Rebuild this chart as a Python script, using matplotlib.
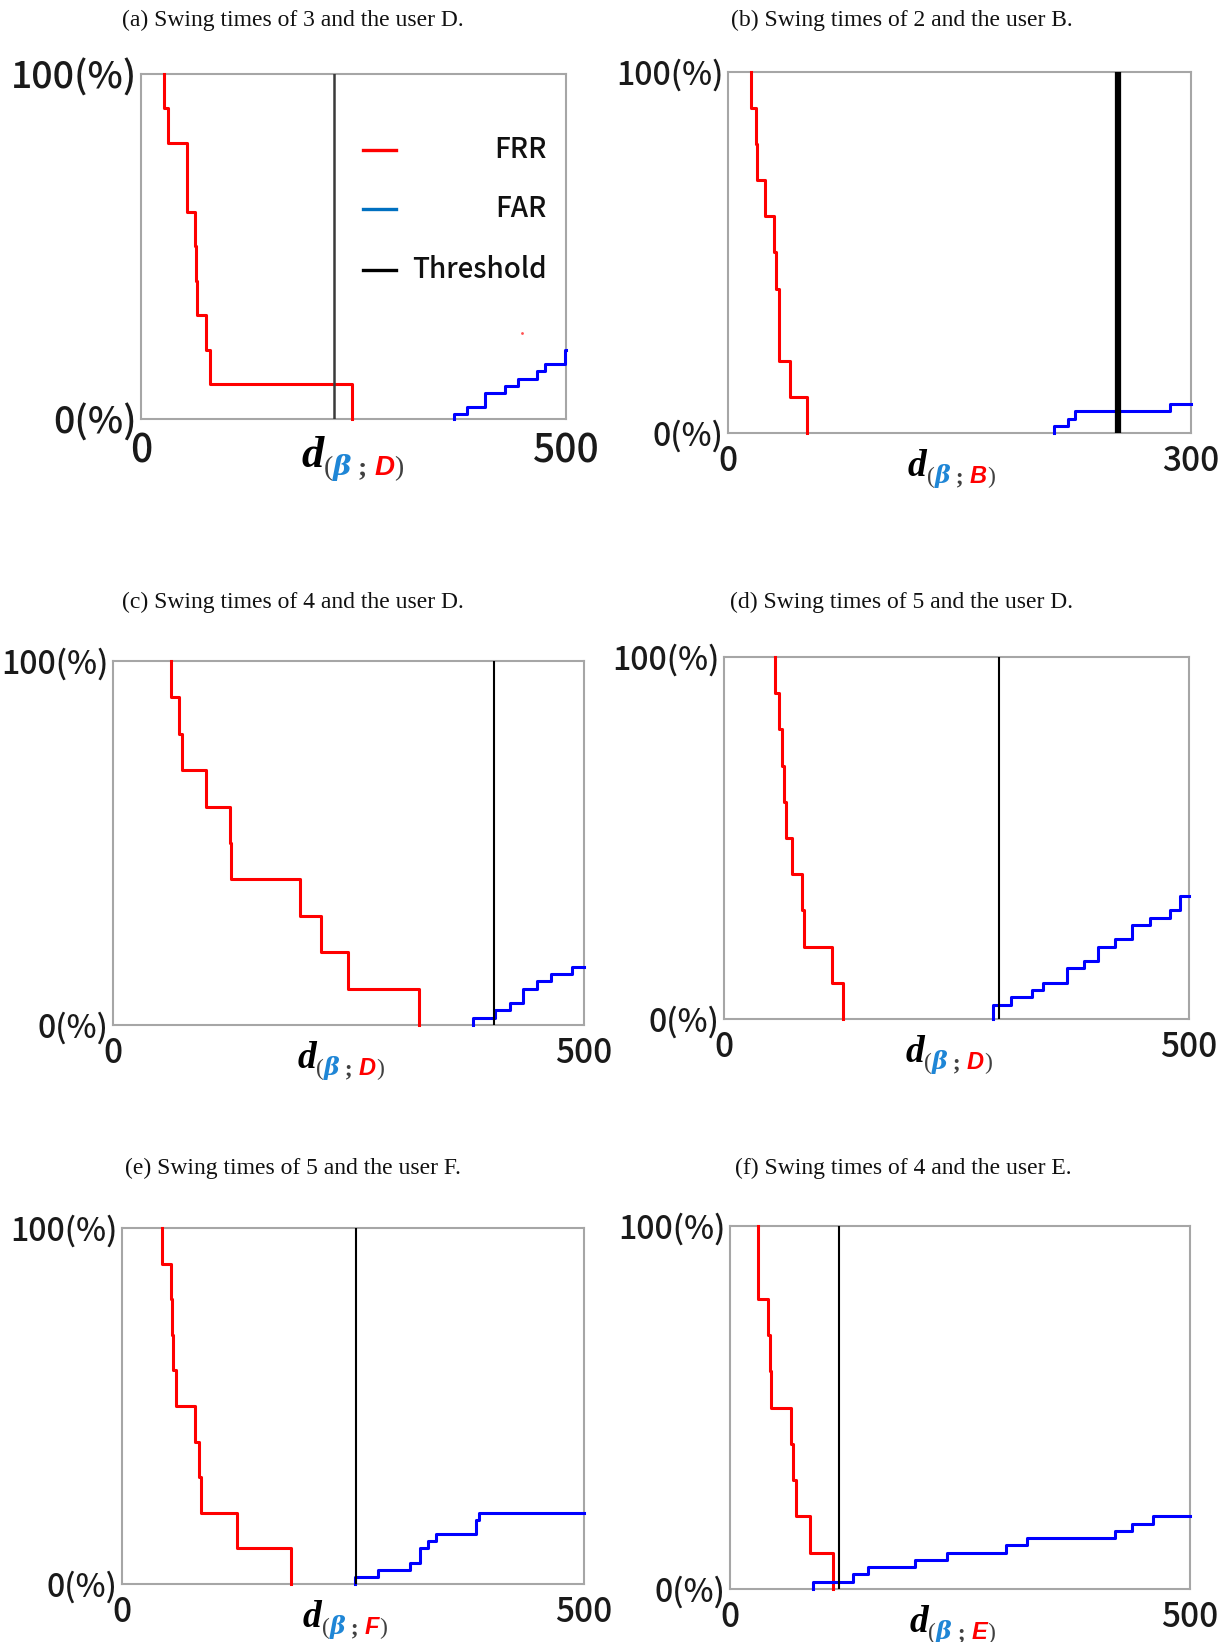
import matplotlib
matplotlib.use('Agg')
import matplotlib.pyplot as plt
import numpy as np

W, H = 1227, 1642
DPI = 100
TICK_FONT = ['Noto Sans CJK JP', 'DejaVu Sans']

# --- data (d value where the curve steps, level after the step, %) ---
titles = ['(a) Swing times of 3 and the user D.',
          '(b) Swing times of 2 and the user B.',
          '(c) Swing times of 4 and the user D.',
          '(d) Swing times of 5 and the user D.',
          '(e) Swing times of 5 and the user F.',
          '(f) Swing times of 4 and the user E.']
users = ['D', 'B', 'D', 'D', 'F', 'E']
x_max = [500, 300, 500, 500, 500, 500]
thresholds = [227, 253, 404.6, 295.8, 252.8, 119]

frr_a_d = [27, 31.5, 54, 54.5, 63, 65, 65.3, 76.6, 81, 248]
frr_a_v = [90, 80, 70, 60, 50, 40, 30, 20, 10, 0]
far_a_d = [368, 383, 405, 428, 443, 466, 475, 499]
far_a_v = [1.5, 3.5, 7.5, 9.5, 11.5, 14, 16, 20]

frr_b_d = [15, 18.1, 18.6, 23.8, 29.7, 31, 32.8, 33, 40.1, 51]
frr_b_v = [90, 80, 70, 60, 50, 40, 30, 20, 10, 0]
far_b_d = [211, 220, 225, 286.5]
far_b_v = [2, 4, 6, 8]

frr_c_d = [62, 70.5, 73.4, 98.8, 123.7, 125.3, 198, 220.7, 249.8, 324.5]
frr_c_v = [90, 80, 70, 60, 50, 40, 30, 20, 10, 0]
far_c_d = [381.7, 405.8, 421, 435.7, 450, 464.7, 487.6]
far_c_v = [2, 4, 6, 10, 12, 14, 16]

frr_d_d = [55.3, 59.5, 62.4, 64.6, 66.7, 73, 84.4, 86.5, 116, 127.8]
frr_d_v = [90, 80, 70, 60, 50, 40, 30, 20, 10, 0]
far_d_d = [289, 309, 331.6, 343, 369, 387, 402, 420, 438.8, 457.8, 480, 490]
far_d_v = [4, 6, 8, 10, 14, 16, 20, 22, 26, 28, 30, 34]

frr_e_d = [43.8, 53, 54.4, 55, 58.6, 78.6, 82.8, 85, 124, 182.7]
frr_e_v = [90, 80, 70, 60, 50, 40, 30, 20, 10, 0]
far_e_d = [252, 277.4, 312, 323, 331, 340, 383.6, 386.6]
far_e_v = [2, 4, 6, 10, 12, 14, 18, 20]

frr_f_d = [30.6, 30.6, 41.7, 43.4, 44.7, 66, 68, 71.5, 87, 111.5]
frr_f_v = [90, 80, 70, 60, 50, 40, 30, 20, 10, 0]
far_f_d = [90.2, 134, 150, 201, 236, 300, 322.5, 418, 437.4, 459.6]
far_f_v = [2, 4, 6, 8, 10, 12, 14, 16, 18, 20]

# small stray red dot in panel (a)
stray_a_x = [448]
stray_a_y = [24.8]

frr_d_all = [frr_a_d, frr_b_d, frr_c_d, frr_d_d, frr_e_d, frr_f_d]
frr_v_all = [frr_a_v, frr_b_v, frr_c_v, frr_d_v, frr_e_v, frr_f_v]
far_d_all = [far_a_d, far_b_d, far_c_d, far_d_d, far_e_d, far_f_d]
far_v_all = [far_a_v, far_b_v, far_c_v, far_d_v, far_e_v, far_f_v]

# --- layout (pixels: left, top, right, bottom) ---
boxes = [(141, 74, 566, 419), (728, 72, 1191, 433),
         (113, 661, 584, 1025), (724, 657, 1189, 1019),
         (122, 1228, 584, 1584), (730, 1226, 1190, 1589)]
title_pos = [(293, 20), (902, 20), (293, 602), (902, 602), (293, 1168), (903, 1168)]
thr_style = [('#3a3a3a', 1.8), ('black', 4.5), ('black', 1.5),
             ('black', 1.5), ('black', 1.5), ('black', 1.5)]


def fx(x):
    return x / W


def fy(y):
    return 1 - y / H


def draw_xlabel(fig, renderer, cx, base, user, big):
    dsize = 32 if big else 27
    ssize = 20 if big else 17
    sub = -8 if big else -7
    pieces = [('d', 'black', 'Liberation Serif', 'bold', 'italic', dsize, 0),
              ('(', '#404040', 'Liberation Serif', 'normal', 'normal', ssize, sub),
              ('β', '#1f86d6', 'DejaVu Serif', 'bold', 'italic', ssize, sub),
              (' ; ', '#404040', 'Liberation Serif', 'bold', 'normal', ssize, sub),
              (user, 'red', 'Liberation Sans', 'bold', 'italic', ssize, sub),
              (')', '#404040', 'Liberation Serif', 'normal', 'normal', ssize, sub)]
    texts = []
    widths = []
    for s, c, fam, wt, st, sz, dy in pieces:
        t = fig.text(0, fy(base - dy), s, color=c, family=fam, fontweight=wt,
                     fontstyle=st, fontsize=sz, ha='left', va='baseline')
        texts.append(t)
        widths.append(t.get_window_extent(renderer).width)
    x = cx - sum(widths) / 2
    for t, w in zip(texts, widths):
        t.set_x(fx(x))
        x += w


fig = plt.figure(figsize=(W / DPI, H / DPI), dpi=DPI)
renderer = fig.canvas.get_renderer()

for i in range(6):
    l, t, r, b = boxes[i]
    ax = fig.add_axes([fx(l), fy(b), (r - l) / W, (b - t) / H])
    big = (i == 0)
    xm = x_max[i]

    # FRR: starts at 100 % and drops
    fd = frr_d_all[i]
    fv = frr_v_all[i]
    ax.step(np.r_[fd[0], fd], np.r_[100, fv], where='post', color='#ff0000',
            lw=2.2, clip_on=False, zorder=3)

    # FAR: starts at 0 % and rises up to the right edge
    ad = far_d_all[i]
    av = far_v_all[i]
    ax.step(np.r_[ad[0], ad, xm], np.r_[0, av, av[-1]], where='post', color='#0000ff',
            lw=2.2, clip_on=False, zorder=3)

    c, lw = thr_style[i]
    ax.axvline(thresholds[i], color=c, lw=lw, zorder=4)

    if i == 0:
        ax.plot(stray_a_x, stray_a_y, 'o', ms=2, color='#ff5050', mew=0)

    ax.set_xlim(0, xm)
    ax.set_ylim(0, 100)
    for sp in ax.spines.values():
        sp.set_color('#a6a6a6')
        sp.set_linewidth(1.5)

    ax.set_xticks([0, xm])
    ax.set_xticklabels(['0', str(xm)])
    ax.set_yticks([0, 100])
    ax.set_yticklabels(['0(%)', '100(%)'])
    ax.tick_params(length=0, labelcolor='#1a1a1a')
    ax.tick_params(axis='x', pad=9 if big else 8)
    ax.tick_params(axis='y', pad=3)
    for lab in ax.get_xticklabels():
        lab.set_fontfamily(TICK_FONT)
        lab.set_fontsize(28 if big else 24)
        lab.set_fontweight('medium')
    for lab in ax.get_yticklabels():
        lab.set_fontfamily(TICK_FONT)
        lab.set_fontsize(27 if big else 23)
        lab.set_fontweight('medium')

    tx, ty = title_pos[i]
    fig.text(fx(tx), fy(ty), titles[i], family='Liberation Serif', fontsize=17,
             ha='center', va='center', color='#111111')

    draw_xlabel(fig, renderer, (l + r) / 2 - (1 if big else 8), b + (48 if big else 43),
                users[i], big)

    if i == 0:
        # legend drawn by hand so labels can be right aligned
        leg_items = [('FRR', '#ff0000', 0.780), ('FAR', '#0070c0', 0.609),
                     ('Threshold', 'black', 0.432)]
        for name, col, yy in leg_items:
            ax.plot([0.522, 0.600], [yy, yy], color=col, lw=2.4, transform=ax.transAxes)
            ax.text(0.955, yy, name, transform=ax.transAxes, ha='right', va='center',
                    family=TICK_FONT, fontsize=20, fontweight='medium', color='#111111')

fig.savefig('out.png', dpi=DPI)
